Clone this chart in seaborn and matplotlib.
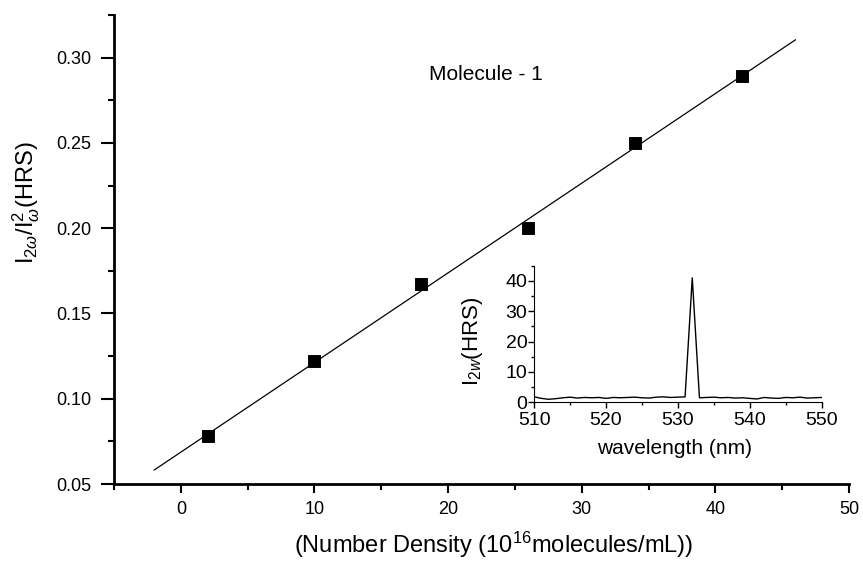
import numpy as np
import pandas as pd
import seaborn as sns
import matplotlib.pyplot as plt
from matplotlib.ticker import MultipleLocator

# main data: HRS signal vs number density
density = [2, 10, 18, 26, 34, 42]
hrs_ratio = [0.078, 0.122, 0.167, 0.200, 0.250, 0.289]

# inset: HRS spectrum
wavelength = list(range(510, 551))
intensity = [1.8, 1.3, 1.0, 1.2, 1.5, 1.7, 1.4, 1.6, 1.5, 1.6,
             1.3, 1.6, 1.5, 1.6, 1.7, 1.5, 1.4, 1.7, 1.8, 1.6,
             1.7, 1.8, 41.0, 1.5, 1.6, 1.7, 1.5, 1.6, 1.4, 1.5,
             1.3, 1.1, 1.6, 1.4, 1.3, 1.6, 1.5, 1.7, 1.4, 1.5, 1.6]

sns.set_style("ticks")
plt.rcParams['font.family'] = ['Liberation Sans', 'DejaVu Sans']
plt.rcParams['mathtext.fontset'] = 'custom'
plt.rcParams['mathtext.rm'] = 'Liberation Sans'
plt.rcParams['mathtext.it'] = 'Liberation Sans:italic'
for key in ['text.color', 'axes.labelcolor', 'axes.edgecolor', 'xtick.color', 'ytick.color']:
    plt.rcParams[key] = 'black'

df = pd.DataFrame({"density": density, "ratio": hrs_ratio})

# linear fit over the data
slope, intercept = np.polyfit(density, hrs_ratio, 1)
fit_x = np.array([-2, 46])
fit_df = pd.DataFrame({"x": fit_x, "y": slope * fit_x + intercept})

fig = plt.figure(figsize=(8.63, 5.63), dpi=100)
ax = fig.add_axes([0.1321, 0.1403, 0.8517, 0.833])

sns.lineplot(data=fit_df, x="x", y="y", ax=ax, color="black", linewidth=0.9)
sns.scatterplot(data=df, x="density", y="ratio", ax=ax, marker="s", s=70,
                color="black", edgecolor="black", zorder=3)

ax.set_xlim(-5, 50)
ax.set_ylim(0.05, 0.325)
ax.xaxis.set_major_locator(MultipleLocator(10))
ax.xaxis.set_minor_locator(MultipleLocator(5))
ax.yaxis.set_major_locator(MultipleLocator(0.05))
ax.yaxis.set_minor_locator(MultipleLocator(0.025))
ax.yaxis.set_major_formatter(plt.FuncFormatter(lambda v, p: f"{v:.2f}"))
ax.tick_params(which="both", direction="out", width=1.5, labelsize=13)
ax.tick_params(axis="y", which="major", length=9.5, pad=7)
ax.tick_params(axis="y", which="minor", length=4.5)
ax.tick_params(axis="x", which="major", length=6.5, pad=6)
ax.tick_params(axis="x", which="minor", length=4)
for s in ["top", "right"]:
    ax.spines[s].set_visible(False)
for s in ["left", "bottom"]:
    ax.spines[s].set_linewidth(2)

ax.set_xlabel(r"(Number Density (10$^{16}$molecules/mL))", fontsize=17, va="top")
ax.xaxis.set_label_coords(0.516, -0.098)
ax.set_ylabel(r"I$_{2\omega}$/I$_{\omega}^{2}$(HRS)", fontsize=17)
ax.yaxis.set_label_coords(-0.098, 0.6)
ax.text(22.8, 0.29, "Molecule - 1", fontsize=15, ha="center", va="center")

# inset spectrum
ins = fig.add_axes([0.619, 0.2854, 0.333, 0.2426])
spec = pd.DataFrame({"wl": wavelength, "I": intensity})
sns.lineplot(data=spec, x="wl", y="I", ax=ins, color="black", linewidth=1.0)
ins.set_xlim(510, 550)
ins.set_ylim(0, 45)
ins.xaxis.set_major_locator(MultipleLocator(10))
ins.xaxis.set_minor_locator(MultipleLocator(5))
ins.yaxis.set_major_locator(MultipleLocator(10))
ins.yaxis.set_minor_locator(MultipleLocator(5))
ins.tick_params(which="major", direction="out", length=4, width=1, labelsize=14, pad=1)
ins.tick_params(axis="x", which="major", pad=3)
ins.tick_params(which="minor", direction="out", length=2.5, width=1)
for s in ["top", "right"]:
    ins.spines[s].set_visible(False)
ins.set_xlabel("wavelength (nm)", fontsize=15, va="top")
ins.xaxis.set_label_coords(0.49, -0.27)
ins.set_ylabel(r"I$_{2w}$(HRS)", fontsize=16)
ins.yaxis.set_label_coords(-0.17, 0.45)
ins.patch.set_alpha(0)

fig.savefig("out.png", dpi=100)
